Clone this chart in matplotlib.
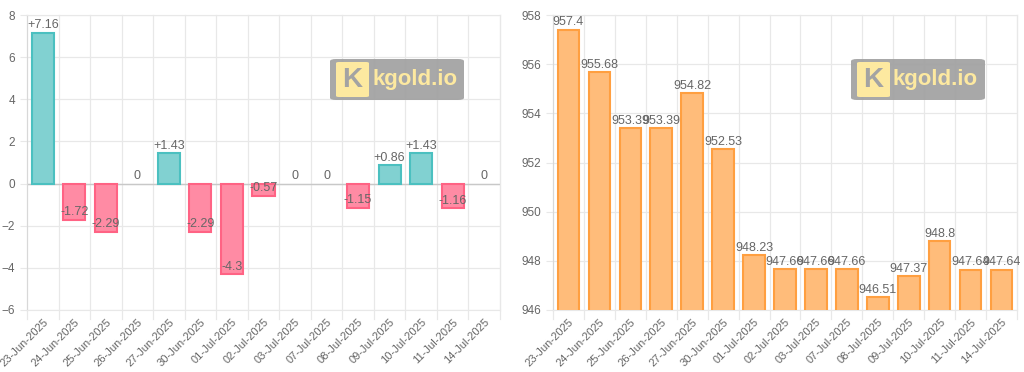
import matplotlib.pyplot as plt
from matplotlib.patches import FancyBboxPatch

plt.rcParams['font.family'] = ['Liberation Sans', 'DejaVu Sans']

# -----------------------
# данные
# -----------------------
dates = ['23-Jun-2025', '24-Jun-2025', '25-Jun-2025', '26-Jun-2025', '27-Jun-2025',
         '30-Jun-2025', '01-Jul-2025', '02-Jul-2025', '03-Jul-2025', '07-Jul-2025',
         '08-Jul-2025', '09-Jul-2025', '10-Jul-2025', '11-Jul-2025', '14-Jul-2025']
changes = [7.16, -1.72, -2.29, 0, 1.43, -2.29, -4.3, -0.57, 0, 0, -1.15, 0.86, 1.43, -1.16, 0]
prices = [957.4, 955.68, 953.39, 953.39, 954.82, 952.53, 948.23, 947.66, 947.66, 947.66,
          946.51, 947.37, 948.8, 947.64, 947.64]

GRID = '#e8e8e8'
TXT = '#666666'


def style_axes(ax, n):
    ax.set_xlim(-0.5, n - 0.5)
    ax.set_xticks(range(n))
    ax.set_xticklabels(dates, rotation=45, ha='right', rotation_mode='anchor',
                       fontsize=8, color=TXT)
    # сетка по границам категорий
    for b in range(n + 1):
        ax.axvline(b - 0.5, color=GRID, lw=0.9, zorder=0, clip_on=False,
                   ymin=-0.03, ymax=1)
    ax.yaxis.grid(True, color=GRID, lw=0.9, zorder=0)
    ax.tick_params(axis='x', length=0, pad=5)
    ax.tick_params(axis='y', length=5, color=GRID, labelsize=8.5, labelcolor=TXT)
    for s in ax.spines.values():
        s.set_color(GRID)
    ax.spines['left'].set_color('#d8d8d8')
    ax.set_axisbelow(True)


def watermark(fig, x0, y0):
    # x0, y0 в пикселях от верхнего левого угла
    W, H = 1024, 372
    bx = FancyBboxPatch((x0 / W, 1 - (y0 + 41) / H), 134 / W, 41 / H,
                        boxstyle='round,pad=0,rounding_size=0.006',
                        transform=fig.transFigure, facecolor='#a3a3a3',
                        edgecolor='none', alpha=0.95, zorder=10)
    fig.patches.append(bx)
    sq = FancyBboxPatch(((x0 + 6) / W, 1 - (y0 + 38) / H), 33 / W, 35 / H,
                        boxstyle='round,pad=0,rounding_size=0.003',
                        transform=fig.transFigure, facecolor='#fde9a0',
                        edgecolor='none', zorder=11)
    fig.patches.append(sq)
    fig.text((x0 + 22) / W, 1 - (y0 + 21) / H, 'K', color='#a3a3a3',
             fontsize=20, fontweight='bold', ha='center', va='center', zorder=12)
    fig.text((x0 + 42) / W, 1 - (y0 + 21) / H, 'kgold.io', color='#fde9a0',
             fontsize=16, fontweight='bold', ha='left', va='center', zorder=12)


fig = plt.figure(figsize=(10.24, 3.72), dpi=100)
ax1 = fig.add_axes([27 / 1024, 1 - 310 / 372, 473 / 1024, 295 / 372])
ax2 = fig.add_axes([553 / 1024, 1 - 310 / 372, 464 / 1024, 295 / 372])

n = len(dates)
x = range(n)

# --- левый график: изменение ---
face = ['#81d1d1' if v >= 0 else '#ff8ba4' for v in changes]
edge = ['none' if v == 0 else ('#4bc0c0' if v > 0 else '#ff6384') for v in changes]
ax1.bar(x, changes, width=0.7, color=face, edgecolor=edge, linewidth=1.5, zorder=3)
ax1.set_ylim(-6, 8)
ax1.set_yticks(range(-6, 9, 2))
style_axes(ax1, n)
ax1.axhline(0, color='#c8c8c8', lw=1, zorder=2)
for i, v in enumerate(changes):
    s = '0' if v == 0 else ('+%g' % v if v > 0 else '%g' % v)
    ax1.annotate(s, (i, v), xytext=(0, 1), textcoords='offset points',
                 ha='center', va='bottom', fontsize=9, color=TXT, zorder=5)

# --- правый график: цена ---
ax2.bar(x, prices, width=0.7, color='#ffbc7a', edgecolor='#ff9f40', linewidth=1.5, zorder=3)
ax2.set_ylim(946, 958)
ax2.set_yticks(range(946, 959, 2))
style_axes(ax2, n)
for i, v in enumerate(prices):
    ax2.annotate('%g' % v, (i, v), xytext=(0, 1), textcoords='offset points',
                 ha='center', va='bottom', fontsize=9, color=TXT, zorder=5)

watermark(fig, 330, 59)
watermark(fig, 851, 59)

fig.savefig('out.png', dpi=100, facecolor='white')
